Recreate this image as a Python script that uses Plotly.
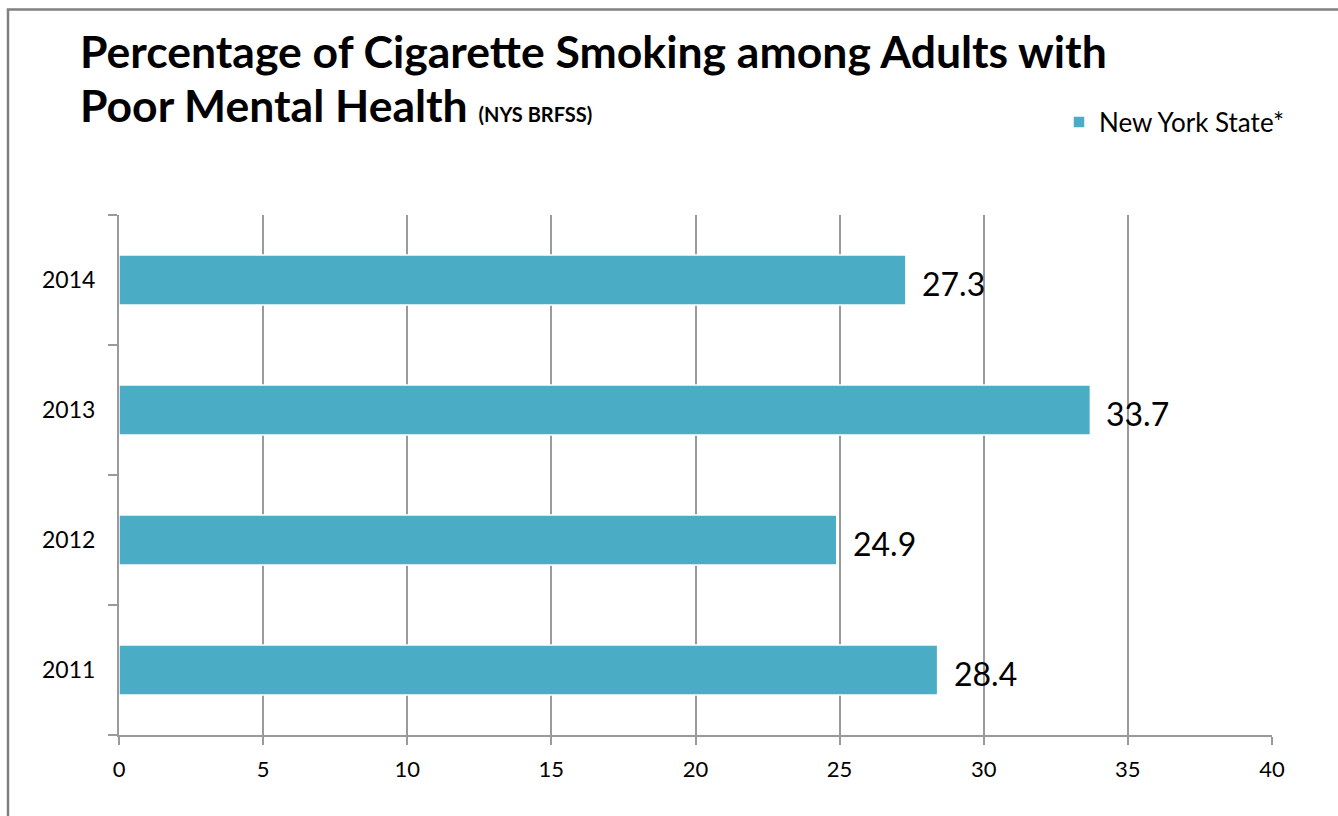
import plotly.graph_objects as go

years = ["2011", "2012", "2013", "2014"]
values = [28.4, 24.9, 33.7, 27.3]
series_name = "New York State*"
x_ticks = [0, 5, 10, 15, 20, 25, 30, 35, 40]

W, H = 1338, 816
L, R, T, B = 119, 1272, 215, 735
pw, ph = R - L, B - T

def px(x):
    return (x - L) / pw

def py(y):
    return (B - y) / ph

FONT = "Lato"
BAR = "#4BACC6"
GRID = "#9a9a9a"

fig = go.Figure()
fig.add_trace(go.Bar(
    y=years, x=values, orientation="h", name=series_name,
    marker=dict(color=BAR, line=dict(color="white", width=1.5)),
    showlegend=True,
))

annotations = []
for i, v in enumerate(values):
    annotations.append(dict(
        x=v, y=i, xref="x", yref="y", text=f"{v}", showarrow=False,
        xanchor="left", yanchor="middle", xshift=14, yshift=-3,
        font=dict(family=FONT, size=32, color="black"),
    ))

annotations.append(dict(
    x=px(78), y=py(50), xref="paper", yref="paper", xanchor="left", yanchor="middle",
    text="<b>Percentage of Cigarette Smoking among Adults with</b>", showarrow=False,
    font=dict(family=FONT, size=44.5, color="black"),
))
annotations.append(dict(
    x=px(78), y=py(104), xref="paper", yref="paper", xanchor="left", yanchor="middle",
    text="<b>Poor Mental Health </b><b><span style='font-size:20px'>(NYS BRFSS)</span></b>",
    showarrow=False, font=dict(family=FONT, size=44.5, color="black"),
))

shapes = [dict(
    type="path", xref="paper", yref="paper",
    path=f"M {px(8)},{py(830)} L {px(8)},{py(9.5)} L {px(1345)},{py(9.5)}",
    line=dict(color="#808080", width=2.5),
)]

fig.update_layout(
    width=W, height=H,
    margin=dict(l=L, r=W - R, t=T, b=H - B, autoexpand=False),
    paper_bgcolor="white", plot_bgcolor="white",
    bargap=0.615,
    font=dict(family=FONT, color="black"),
    legend=dict(
        orientation="h", x=px(1059), y=py(122), xanchor="left", yanchor="middle",
        font=dict(family=FONT, size=26, color="black"), bgcolor="rgba(0,0,0,0)",
    ),
    annotations=annotations,
    shapes=shapes,
    xaxis=dict(
        range=[0, 40], tickvals=x_ticks, ticktext=[str(t) for t in x_ticks],
        showgrid=True, gridcolor=GRID, gridwidth=2,
        showline=True, linecolor=GRID, linewidth=2,
        ticks="outside", ticklen=8, tickwidth=2, tickcolor=GRID,
        tickfont=dict(family=FONT, size=22, color="black"),
        ticklabelstandoff=6, zeroline=False,
    ),
    yaxis=dict(
        type="category", categoryorder="array", categoryarray=years,
        range=[-0.5, 3.5],
        showgrid=False, showline=True, linecolor=GRID, linewidth=2,
        ticks="outside", tickson="boundaries", ticklen=9, tickwidth=2, tickcolor=GRID,
        tickfont=dict(family=FONT, size=23, color="black"),
        ticklabelstandoff=17, zeroline=False,
    ),
)

fig.write_html("out.html", post_script="document.body.style.margin='0px';",
               config={"displayModeBar": False})
